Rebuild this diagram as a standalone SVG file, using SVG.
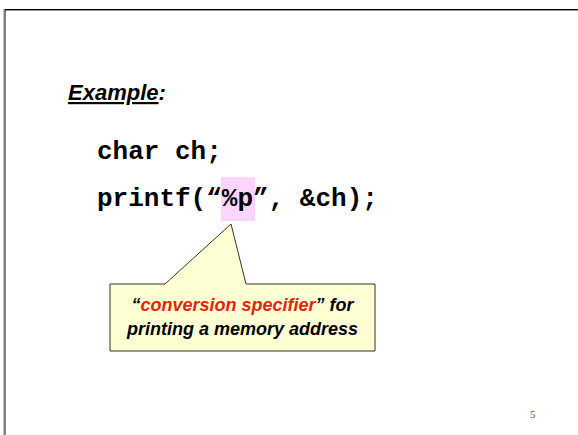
<svg xmlns="http://www.w3.org/2000/svg" width="578" height="435" viewBox="0 0 578 435">
<style>
.code{font-family:"Liberation Mono","Courier New",monospace;font-weight:bold;font-size:26px;fill:#000}
.call{font-family:"Liberation Sans",Arial,sans-serif;font-weight:bold;font-style:italic;font-size:18px;fill:#000}
.red{fill:#e2250c}
</style>
<rect width="578" height="435" fill="#fff"/>
<g id="frame">
<rect x="3.5" y="9" width="2.5" height="426" fill="#808080"/>
<rect x="5" y="9" width="573" height="1.4" fill="#000"/>
</g>
<g id="title">
<text x="68" y="100" font-family="Liberation Sans, Arial, sans-serif" font-weight="bold" font-style="italic" font-size="22" fill="#000"><tspan text-decoration="underline">Example</tspan>:</text>
</g>
<g id="code">
<rect x="221" y="177" width="34" height="44" fill="#ffd4ff"/>
<text class="code" x="97" y="159">char ch;</text>
<text class="code" x="97" y="206">printf(“%p”, &amp;ch);</text>
</g>
<g id="callout">
<path d="M110,284 L165,284 L231,224 L246,284 L375,284 L375,351 L110,351 Z" fill="#ffffd4" stroke="#333" stroke-width="1"/>
<text class="call" x="242.5" y="311" text-anchor="middle">“<tspan class="red">conversion specifier</tspan>” for</text>
<text class="call" x="242.5" y="335" text-anchor="middle">printing a memory address</text>
</g>
<g id="page">
<text x="530" y="418" font-family="Liberation Serif, Times New Roman, serif" font-size="11" fill="#555">5</text>
</g>
</svg>
